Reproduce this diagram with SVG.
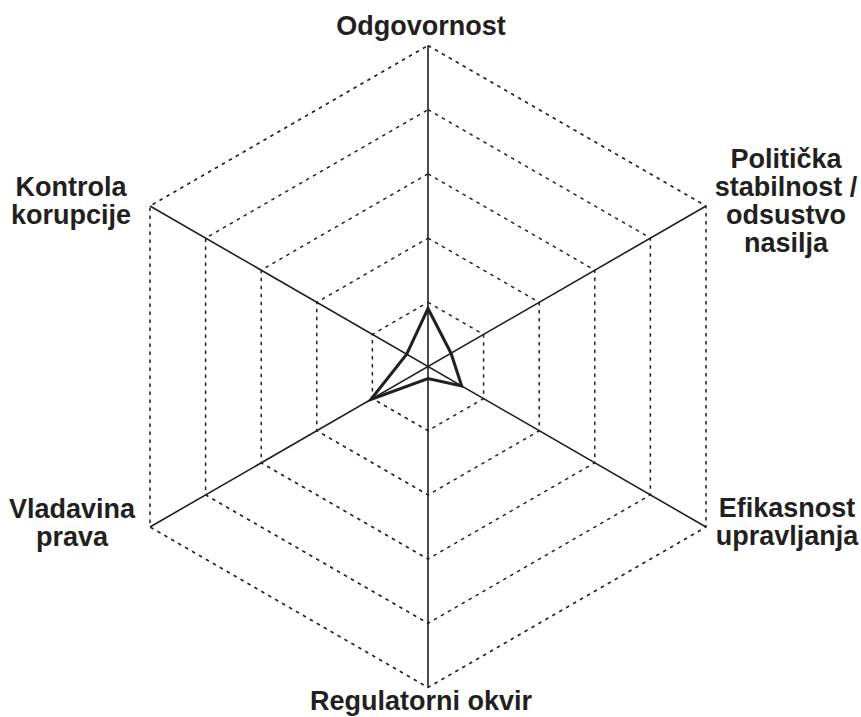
<svg xmlns="http://www.w3.org/2000/svg" width="861" height="717" viewBox="0 0 861 717">
<style>
.ring{fill:none;stroke:#231f20;stroke-width:1.5;stroke-dasharray:3.5 4.5}
.axis{stroke:#231f20;stroke-width:1.6;fill:none}
.data{fill:none;stroke:#231f20;stroke-width:3;stroke-linejoin:miter}
.lbl{font-family:"Liberation Sans",Arial,sans-serif;font-weight:bold;font-size:27px;fill:#231f20;text-anchor:middle}
</style>
<rect width="861" height="717" fill="#ffffff"/>
<g id="grid">
<polygon class="ring" points="428,45.5 706,206 706,527 428,687.5 150,527 150,206"/>
<polygon class="ring" points="428,109.7 650.4,238.1 650.4,494.9 428,623.3 205.6,494.9 205.6,238.1"/>
<polygon class="ring" points="428,173.9 594.8,270.2 594.8,462.8 428,559.1 261.2,462.8 261.2,270.2"/>
<polygon class="ring" points="428,238.1 539.2,302.3 539.2,430.7 428,494.9 316.8,430.7 316.8,302.3"/>
<polygon class="ring" points="428,302.3 483.6,334.4 483.6,398.6 428,430.7 372.4,398.6 372.4,334.4"/>
</g>
<g id="connectors">
<line class="axis" x1="428" y1="45.5" x2="428" y2="687.5"/>
<line class="axis" x1="150" y1="206" x2="706" y2="527"/>
<line class="axis" x1="706" y1="206" x2="150" y2="527"/>
</g>
<g id="data">
<polygon class="data" points="428,308.5 451,353.2 461.7,386 428,378.5 370.8,399.5 406.7,354.2"/>
</g>
<g id="node-odgovornost"><text class="lbl" x="421" y="35">Odgovornost</text></g>
<g id="node-politicka"><text class="lbl" x="786" y="168">Politička</text><text class="lbl" x="786" y="196">stabilnost /</text><text class="lbl" x="786" y="224">odsustvo</text><text class="lbl" x="786" y="252">nasilja</text></g>
<g id="node-efikasnost"><text class="lbl" x="787" y="517">Efikasnost</text><text class="lbl" x="787" y="545">upravljanja</text></g>
<g id="node-regulatorni"><text class="lbl" x="421" y="710">Regulatorni okvir</text></g>
<g id="node-vladavina"><text class="lbl" x="72" y="518">Vladavina</text><text class="lbl" x="72" y="546">prava</text></g>
<g id="node-kontrola"><text class="lbl" x="71" y="196">Kontrola</text><text class="lbl" x="71" y="224">korupcije</text></g>
</svg>
